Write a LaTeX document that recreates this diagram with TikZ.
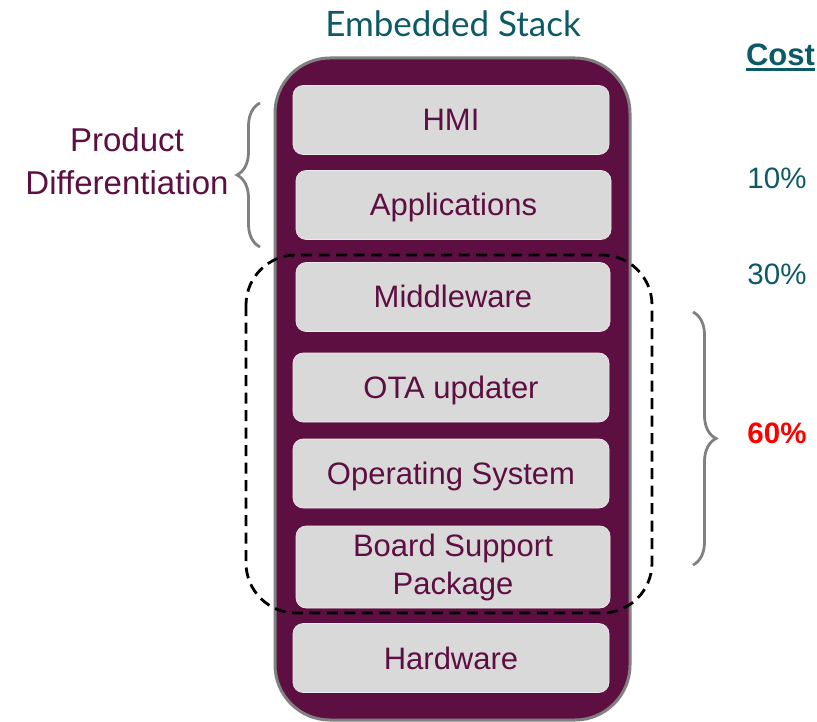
\documentclass[tikz,border=0pt]{standalone}
\usepackage{fontspec}
\setmainfont{Liberation Sans}
\newfontfamily\latofont{Lato}
\usetikzlibrary{decorations.pathreplacing}
\definecolor{stackpurple}{RGB}{94,15,65}
\definecolor{stackteal}{RGB}{12,90,102}
\definecolor{boxgray}{RGB}{217,217,217}
\definecolor{bracegray}{RGB}{128,128,128}
\definecolor{costred}{RGB}{255,0,0}
\begin{document}
\begin{tikzpicture}[x=1pt,y=-1pt,
  layer/.style={draw=white!85!gray,line width=0.6pt,fill=boxgray,rounded corners=10pt,
    text=stackpurple,font=\fontsize{31}{37}\selectfont,align=center,
    inner sep=0pt,minimum width=316pt,minimum height=69pt},
  oneline/.style={text height=28pt,text depth=6pt},
  bracestyle/.style={draw=bracegray,line width=2.8pt,decorate,
    decoration={brace,amplitude=23pt,aspect=0.5}},
  pct/.style={text=stackteal,font=\fontsize{29.5}{34}\selectfont,anchor=base,inner sep=0pt}]
\useasboundingbox (0,0) rectangle (817,722);
% outer stack
\draw[draw=bracegray,line width=3pt,fill=stackpurple,rounded corners=55pt] (275,58) rectangle (630,720);
% layers
\node[layer,oneline] (hmi) at (451,120) {HMI};
\node[layer,oneline,minimum width=315pt] (app) at (453.5,205) {Applications};
\node[layer,oneline,minimum width=314pt] (mid) at (453,297) {Middleware};
\node[layer,oneline] (ota) at (451,387.5) {OTA updater};
\node[layer,oneline] (os) at (451,473.5) {Operating System};
\node[layer,minimum width=314pt,minimum height=82pt,font=\fontsize{31}{38}\selectfont] (bsp) at (453,567) {Board Support\\Package};
\node[layer,oneline] (hw) at (451,658) {Hardware};
% dashed group
\draw[black,line width=2.8pt,dash pattern=on 11pt off 6.5pt,rounded corners=50pt] (246,255) rectangle (652,613);
% title
\node[text=stackteal,font=\latofont\fontsize{35}{40}\selectfont,anchor=base,inner sep=0pt] (title) at (453,37) {Embedded Stack};
% cost column
\node[text=stackteal,font=\bfseries\fontsize{31}{36}\selectfont,anchor=base,inner sep=0pt] (cost) at (780.5,66) {Cost};
\draw[stackteal,line width=2.8pt] (cost.base west) ++(0,3.5) coordinate (ul1) -- (cost.base east |- ul1);
\node[pct] (p10) at (777,189) {10\%};
\node[pct] (p30) at (777,285) {30\%};
\node[pct,text=costred,font=\bfseries\fontsize{29.5}{34}\selectfont] (p60) at (777,443) {60\%};
% left annotation
\node[text=stackpurple,font=\fontsize{33}{43}\selectfont,align=center,anchor=base,inner sep=0pt] (prod) at (127,195) {Product\\Differentiation};
% braces
\coordinate (lb1) at (260,247);
\coordinate (lb2) at (260,103);
\draw[bracestyle] (lb1) -- (lb2);
\coordinate (rb1) at (693,312);
\coordinate (rb2) at (693,565);
\draw[bracestyle] (rb1) -- (rb2);
\end{tikzpicture}
\end{document}
